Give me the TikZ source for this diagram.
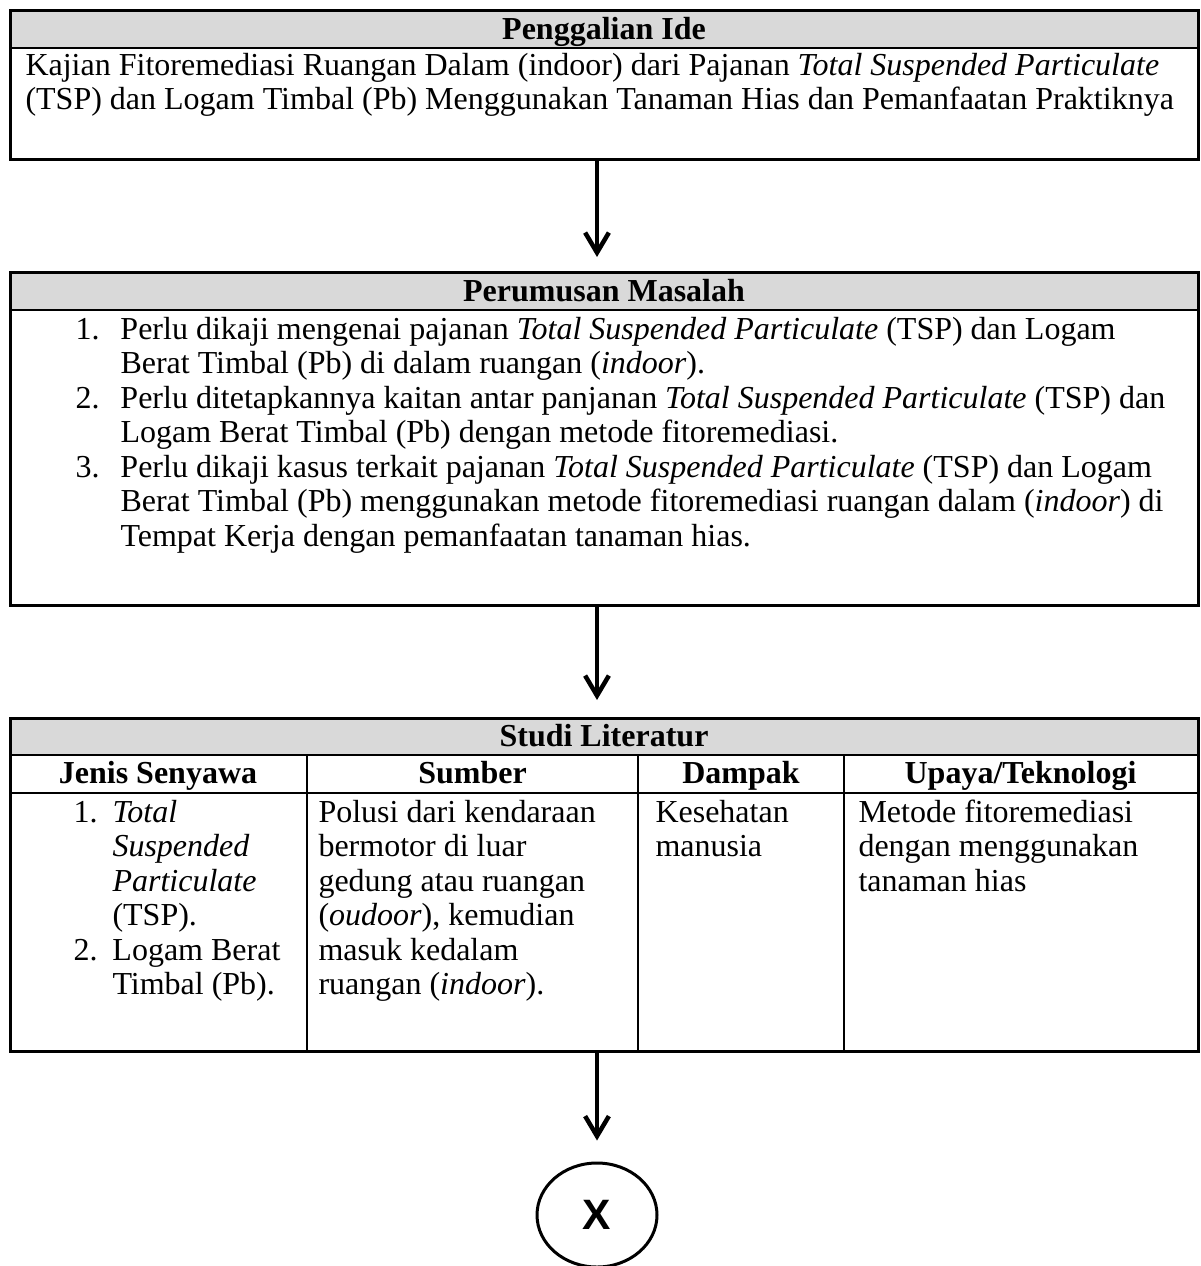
\documentclass[tikz,border=0pt]{standalone}
\usepackage{fontspec}
\setmainfont{Liberation Serif}
\newfontfamily\sansX{Liberation Sans}
\usetikzlibrary{arrows.meta,positioning,shapes.geometric}
\definecolor{abuJudul}{HTML}{D9D9D9}
\newdimen\px \px=0.4pt
\newcommand{\ukuran}{\fontsize{12.8}{13.8}\selectfont}
\tikzset{
  kotak/.style={
    draw,
    line width=1.2pt,
    inner sep=0pt,
    anchor=north west,
    minimum width=1188\px
  },
  kepala/.style={
    draw,
    fill=abuJudul,
    line width=0.8pt,
    inner sep=0pt,
    anchor=north west,
    minimum width=1188\px,
    font=\ukuran\bfseries,
    text height=8pt,
    text depth=0pt
  },
  isi/.style={
    anchor=base west,
    inner sep=0pt
  },
  kolom/.style={
    anchor=base,
    inner sep=0pt,
    font=\ukuran\bfseries
  },
  garis/.style={
    line width=0.8pt
  },
  panah/.style={
    line width=1.8pt,
    -{Straight Barb[length=8pt,width=9.5pt]}
  },
}
\begin{document}
\begin{tikzpicture}[x=\px, y=-\px, font=\ukuran]
    \useasboundingbox (0,0) rectangle (1200,1266);
    % penggalian ide
    \node[kepala, minimum height=38\px] (ideJudul) at (9,9) {Penggalian Ide};
    \node[kotak, minimum height=149\px] (ide) at (9,9) {};
    \node[isi] (ideTeks) at (25,75) {\begin{tabular}[t]{@{}l@{}}
      Kajian Fitoremediasi Ruangan Dalam (indoor) dari Pajanan \textit{Total Suspended Particulate}\\
      (TSP) dan Logam Timbal (Pb) Menggunakan Tanaman Hias dan Pemanfaatan Praktiknya
    \end{tabular}};
    % perumusan masalah
    \node[kepala, minimum height=38\px] (masalahJudul) at (9,271) {Perumusan Masalah};
    \node[kotak, minimum height=333\px] (masalah) at (9,271) {};
    \node[isi] (masalahTeks) at (75,339) {\begin{tabular}[t]{@{}p{18pt}@{}l@{}}
      1. & Perlu dikaji mengenai pajanan \textit{Total Suspended Particulate} (TSP) dan Logam\\
         & Berat Timbal (Pb) di dalam ruangan (\textit{indoor}).\\
      2. & Perlu ditetapkannya kaitan antar panjanan \textit{Total Suspended Particulate} (TSP) dan\\
         & Logam Berat Timbal (Pb) dengan metode fitoremediasi.\\
      3. & Perlu dikaji kasus terkait pajanan \textit{Total Suspended Particulate} (TSP) dan Logam\\
         & Berat Timbal (Pb) menggunakan metode fitoremediasi ruangan dalam (\textit{indoor}) di\\
         & Tempat Kerja dengan pemanfaatan tanaman hias.
    \end{tabular}};
    % studi literatur
    \node[kepala, minimum height=37\px] (studiJudul) at (9,717) {Studi Literatur};
    \node[kotak, minimum height=333\px] (studi) at (9,717) {};
    \draw[garis] (9,793) -- (1197,793);
    \foreach \kx in {307,638,844}
      \draw[garis] (\kx,754) -- (\kx,1050);
    \node[kolom] (jenisJudul) at (158,783) {Jenis Senyawa};
    \node[kolom] (sumberJudul) at (472.5,783) {Sumber};
    \node[kolom] (dampakJudul) at (741,783) {Dampak};
    \node[kolom] (upayaJudul) at (1020.5,783) {Upaya/Teknologi};
    \node[isi] (jenisIsi) at (73,822) {\begin{tabular}[t]{@{}p{15.6pt}@{}l@{}}
      1. & \textit{Total}\\
         & \textit{Suspended}\\
         & \textit{Particulate}\\
         & (TSP).\\
      2. & Logam Berat\\
         & Timbal (Pb).
    \end{tabular}};
    \node[isi] (sumberIsi) at (318,822) {\begin{tabular}[t]{@{}l@{}}
      Polusi dari kendaraan\\
      bermotor di luar\\
      gedung atau ruangan\\
      (\textit{oudoor}), kemudian\\
      masuk kedalam\\
      ruangan (\textit{indoor}).
    \end{tabular}};
    \node[isi] (dampakIsi) at (655,822) {\begin{tabular}[t]{@{}l@{}}
      Kesehatan\\
      manusia
    \end{tabular}};
    \node[isi] (upayaIsi) at (858,822) {\begin{tabular}[t]{@{}l@{}}
      Metode fitoremediasi\\
      dengan menggunakan\\
      tanaman hias
    \end{tabular}};
    % hasil
    \node[draw, ellipse, line width=1.2pt, minimum width=120\px, minimum height=104\px,
      inner sep=0pt, font=\sansX\bfseries\fontsize{17}{20}\selectfont] (hasil) at (597,1215) {X};
    \draw[panah, shorten >=14\px] (ide.south -| hasil) -- (masalah.north -| hasil);
    \draw[panah, shorten >=17\px] (masalah.south -| hasil) -- (studi.north -| hasil);
    \draw[panah, shorten <=-3\px, shorten >=21\px] (studi.south -| hasil) -- (hasil.north);
\end{tikzpicture}
\end{document}
